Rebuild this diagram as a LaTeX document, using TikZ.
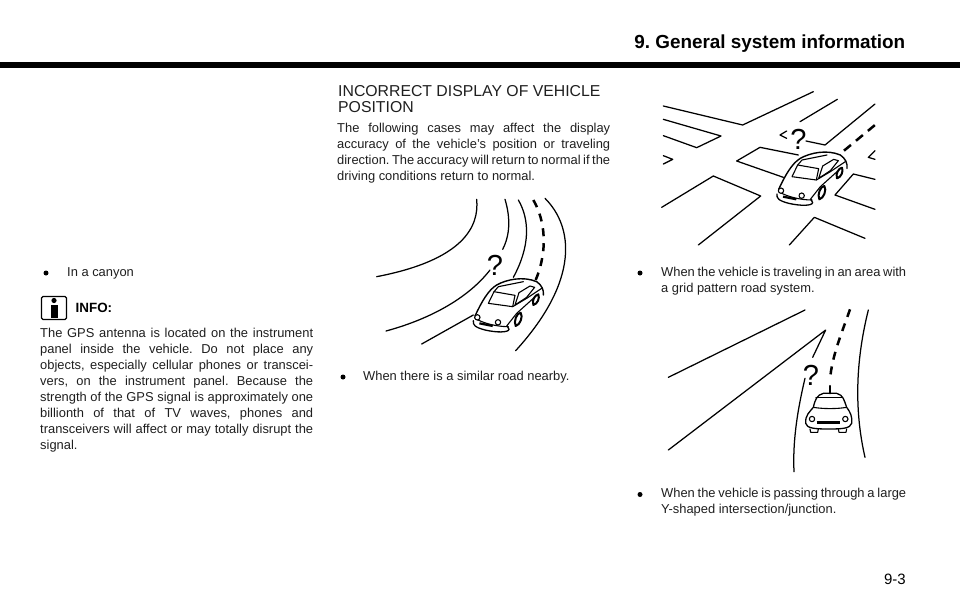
\documentclass[tikz,border=0pt]{standalone}
\usepackage{fontspec}
\setmainfont{Liberation Sans}
\frenchspacing
\newcommand{\jline}[4][273pt]{\node[bodyline] (#2) at (#3) {\spaceskip=.278em plus 1em minus .12em\hbox to #1{#4}};}
\tikzset{
  x=1pt,y=-1pt,
  bodyline/.style={anchor=base west,inner sep=0pt,font=\fontsize{12.9}{16}\selectfont,text=black!88},
  road/.style={line width=1.25pt,line cap=round,line join=round},
  dashroad/.style={line width=2.5pt,dash pattern=on 8pt off 7pt},
  carline/.style={line width=1.1pt,line join=round,line cap=round},
  bullet/.style={circle,fill=black,inner sep=0pt,minimum size=5pt},
  qm/.style={inner sep=0pt,font=\fontsize{29}{29}\selectfont},
}
\newcommand{\carside}{%
  \fill[white] (340,395) -- (350,375) -- (385,310) -- (410,285) -- (450,268) -- (490,265) -- (530,275) -- (550,305) -- (545,325) -- (520,350) -- (470,412) -- (440,425) -- (375,422) -- (345,410) -- cycle;
  \draw[carline,line width=1.4pt] (345,378) .. controls (365,335) and (385,300) .. (410,285) .. controls (440,268) and (490,258) .. (530,275) .. controls (545,285) and (552,300) .. (550,315);
  \draw[carline,line width=1.3pt] (340,392) .. controls (338,405) and (345,412) .. (375,420) .. controls (410,428) and (445,428) .. (447,418) -- (442,408);
  \draw[carline] (345,385) .. controls (370,400) and (410,410) .. (445,410);
  \draw[carline] (385,340) -- (402,305) -- (465,316) -- (458,350) -- cycle;
  \draw[carline] (402,305) -- (415,290) -- (490,275);
  \draw[carline] (465,345) -- (477,308) -- (510,288) -- (524,292) -- (500,322) -- cycle;
  \draw[carline] (458,350) -- (500,325) -- (545,295);
  \draw[carline] (440,408) -- (470,370) -- (520,325);
  \draw[carline,line width=2pt,fill=white] (467,408) .. controls (460,395) and (470,368) .. (482,368) .. controls (490,380) and (480,405) .. (467,408) -- cycle;
  \draw[carline,line width=2pt,fill=white] (520,345) .. controls (515,330) and (525,315) .. (535,313) .. controls (540,325) and (532,342) .. (520,345) -- cycle;
  \draw[carline,fill=white] (352,382) circle[radius=8];
  \draw[carline,fill=white] (414,397) circle[radius=8];
  \draw[line width=2.2pt] (358,400) -- (398,408);
}
\begin{document}
\begin{tikzpicture}
\useasboundingbox (0,0) rectangle (960,611);
\fill[white] (0,0) rectangle (960,611);
% header band
\fill[black] (0,61.5) rectangle (960,67.5);
\node[anchor=base east,inner sep=0pt,font=\fontsize{18.9}{24}\selectfont\bfseries] (title) at (905.5,48) {9. General system information};
% left column
\node[bullet] (b1) at (46,273) {};
\node[bodyline] (t1) at (67,276) {In a canyon};
\node[draw,rounded corners=1.5pt,line width=1.1pt,minimum width=25pt,minimum height=23pt,inner sep=0pt] (infobox) at (54,308) {};
\fill (54,300.5) circle[radius=2.6];
\fill (50.5,304.5) rectangle (57.5,317.5);
\node[bodyline,text=black,font=\fontsize{13.4}{16}\selectfont\bfseries] (t2) at (75.5,312) {INFO:};
\jline{l1}{40,337}{The GPS antenna is located on the instrument}
\jline{l2}{40,353}{panel inside the vehicle. Do not place any}
\jline{l3}{40,369}{objects, especially cellular phones or transcei-}
\jline{l4}{40,385}{vers, on the instrument panel. Because the}
\jline{l5}{40,401}{strength of the GPS signal is approximately one}
\jline{l6}{40,417}{billionth of that of TV waves, phones and}
\jline{l7}{40,433}{transceivers will affect or may totally disrupt the}
\node[bodyline] (l8) at (40,449) {signal.};
% middle column
\node[bodyline,font=\fontsize{15.8}{18}\selectfont] (h1) at (338,96) {INCORRECT DISPLAY OF VEHICLE};
\node[bodyline,font=\fontsize{15.8}{18}\selectfont] (h2) at (338,112) {POSITION};
\jline{m1}{337,132}{The following cases may affect the display}
\jline{m2}{337,148}{accuracy of the vehicle’s position or traveling}
\jline{m3}{337,164}{direction. The accuracy will return to normal if the}
\node[bodyline] (m4) at (337,180) {driving conditions return to normal.};
\node[bullet] (b2) at (343,377) {};
\node[bodyline] (m5) at (363,380) {When there is a similar road nearby.};
% right column
\node[bullet] (b3) at (640,273) {};
\jline[245pt]{r1}{661,276}{When the vehicle is traveling in an area with}
\node[bodyline] (r2) at (661,292) {a grid pattern road system.};
\node[bullet] (b4) at (640,494.5) {};
\jline[245pt]{r3}{661,497.5}{When the vehicle is passing through a large}
\node[bodyline] (r4) at (661,513.5) {Y-shaped intersection/junction.};
\node[anchor=base east,inner sep=0pt,font=\fontsize{15}{18}\selectfont] (pg) at (906,584) {9-3};
% illustration 1
\begin{scope}[shift={(360,190)},scale=1/3]
  \draw[road] (350,28) .. controls (358,110) and (310,210) .. (50,260);
  \draw[road] (435,28) .. controls (452,85) and (450,135) .. (428,178);
  \draw[road] (390,240) .. controls (320,330) and (200,390) .. (78,423);
  \draw[road] (475,30) .. controls (510,90) and (510,170) .. (460,262);
  \draw[road] (340,375) -- (185,462);
  \draw[dashroad] (520,30) .. controls (555,90) and (565,180) .. (527,270);
  \draw[road] (555,25) .. controls (640,110) and (660,270) .. (467,482);
  \node[qm] (q1) at (405,227) {?};
  \carside
\end{scope}
% illustration 2
\begin{scope}[shift={(660,80)},scale=1/3]
  \draw[road] (10,78) -- (248,135) -- (460,35);
  \draw[road] (10,118) -- (183,168) -- (110,203) -- (10,167);
  \draw[road] (420,125) -- (532,58);
  \draw[road] (645,72) -- (495,195) -- (438,183);
  \draw[road] (380,153) -- (360,165) -- (380,175);
  \draw[dashroad,dash pattern=on 9pt off 6.5pt] (552,212) -- (645,135);
  \draw[road] (645,212) -- (625,232) -- (645,238);
  \draw[road] (10,227) -- (38,238) -- (10,252);
  \draw[road] (5,382) -- (160,288) -- (302,348) -- (115,495);
  \draw[road] (415,225) -- (300,202) -- (230,243) -- (370,292);
  \draw[road] (645,298) -- (580,282) -- (525,345) -- (645,388);
  \draw[road] (388,495) -- (463,412) -- (615,475);
  \node[qm] (q2) at (415,177) {?};
  \begin{scope}[shift={(11,-50)}]
    \carside
  \end{scope}
\end{scope}
% illustration 3
\begin{scope}[shift={(660,300)},scale=1/3]
  \draw[road] (25,232) -- (435,30);
  \draw[road] (25,450) -- (497,90) -- (458,172);
  \draw[road] (435,235) .. controls (410,340) and (398,430) .. (402,515);
  \draw[road] (625,30) .. controls (590,170) and (580,320) .. (615,472);
  \draw[dashroad] (570,28) .. controls (545,100) and (515,170) .. (510,240);
  \draw[road,line width=2.2pt] (510,258) -- (510,280);
  \node[qm] (q3) at (453,226) {?};
  \fill[white] (465,285) -- (545,285) -- (560,322) -- (575,370) -- (570,385) -- (440,385) -- (437,370) -- (447,330) -- cycle;
  \draw[carline,line width=1.3pt] (437,370) .. controls (435,345) and (450,335) .. (460,322) .. controls (465,300) and (470,285) .. (490,280) -- (530,280) .. controls (550,285) and (552,300) .. (560,322) .. controls (570,335) and (578,350) .. (575,370) .. controls (570,385) and (550,387) .. (505,387) .. controls (465,387) and (440,385) .. (437,370);
  \draw[carline] (460,322) .. controls (490,327) and (530,327) .. (560,322);
  \draw[carline] (468,292) -- (546,292);
  \draw[carline,fill=white] (456,357) circle[radius=8];
  \draw[carline,fill=white] (556,357) circle[radius=8];
  \draw[line width=2.4pt] (470,368) -- (540,368);
  \draw[carline] (450,387) -- (452,397) -- (473,397) -- (475,387);
  \draw[carline] (535,387) -- (537,397) -- (558,397) -- (560,387);
\end{scope}
\end{tikzpicture}
\end{document}
